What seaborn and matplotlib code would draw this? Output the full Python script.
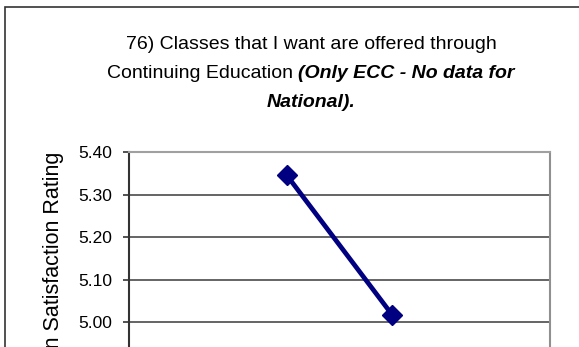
import matplotlib
matplotlib.use("Agg")
import matplotlib.pyplot as plt
from matplotlib.patches import Rectangle
import pandas as pd
import seaborn as sns

# Chart text
title_line1 = "76) Classes that I want are offered through"
title_line2_plain = "Continuing Education "
title_line2_emph = "(Only ECC - No data for"
title_line3_emph = "National)."
y_label = "Mean Satisfaction Rating"

# Data: ECC survey results only
terms = ["ECC 2007", "ECC 2009"]
ratings = [5.345, 5.017]
y_ticks = [5.00, 5.10, 5.20, 5.30, 5.40]
y_min = 4.90

sns.set_style("white")
plt.rcParams["font.family"] = ["Liberation Sans", "DejaVu Sans"]
plt.rcParams["text.color"] = "black"
plt.rcParams["axes.labelcolor"] = "black"
plt.rcParams["ytick.color"] = "black"

W, H = 579, 347
fig = plt.figure(figsize=(W / 100, H / 100), dpi=100)

# outer chart frame (continues past the right and bottom edges)
fig.patches.append(Rectangle((5 / W, -0.5), 1.5, 1 - 7 / H + 0.5,
                             transform=fig.transFigure, fill=False,
                             edgecolor="#333333", linewidth=1.2, clip_on=False))

# plot area: top at 152 px, 425 px per rating unit
px_per_unit = 425
top_px = 152
height_px = (y_ticks[-1] - y_min) * px_per_unit
left_px, right_px = 129, 550
ax = fig.add_axes([left_px / W, 1 - (top_px + height_px) / H,
                   (right_px - left_px) / W, height_px / H])

df = pd.DataFrame({"pos": range(len(terms)), "rating": ratings})
sns.lineplot(data=df, x="pos", y="rating", ax=ax, color="#000080",
             linewidth=3.4, marker="D", markersize=10.5,
             markeredgecolor="#000080", markeredgewidth=1)

ax.set_xlim(-1.5, len(terms) + 0.5)
ax.set_xticks(range(len(terms)))
ax.set_xticklabels([])
ax.set_ylim(y_min, y_ticks[-1])
ax.set_yticks(y_ticks)
ax.set_yticklabels([f"{v:.2f}" for v in y_ticks])
ax.set_xlabel("")

for v in y_ticks[:-1]:
    ax.axhline(v, color="#4a4a4a", linewidth=1.2, zorder=0)

ax.tick_params(axis="y", direction="out", length=4.3, width=1.2,
               color="#333333", pad=8, labelsize=12.5, left=True)
ax.tick_params(axis="x", length=0)
ax.spines["left"].set_color("#333333")
ax.spines["left"].set_linewidth(1.5)
ax.spines["top"].set_color("#a0a0a0")
ax.spines["top"].set_linewidth(1.5)
ax.spines["right"].set_color("#909090")
ax.spines["right"].set_linewidth(1.5)
ax.spines["bottom"].set_color("#333333")

ax.set_ylabel(y_label, fontsize=15.5)
ax.yaxis.label.set_ha("right")
ax.yaxis.set_label_coords((64 - left_px) / (right_px - left_px), 1.0)

# title, centred, with the note in bold italic
cx = 311 / W
fs = 14
fig.text(cx, 1 - 49 / H, title_line1, ha="center", va="baseline", fontsize=fs)
t_plain = fig.text(0, 1 - 78 / H, title_line2_plain, ha="left", va="baseline", fontsize=fs)
t_emph = fig.text(0, 1 - 78 / H, title_line2_emph, ha="left", va="baseline",
                  fontsize=fs, fontweight="bold", fontstyle="italic")
fig.text(cx, 1 - 107 / H, title_line3_emph, ha="center", va="baseline",
         fontsize=fs, fontweight="bold", fontstyle="italic")

r = fig.canvas.get_renderer()
w1 = t_plain.get_window_extent(r).width / W
w2 = t_emph.get_window_extent(r).width / W
x0 = cx - (w1 + w2) / 2
t_plain.set_x(x0)
t_emph.set_x(x0 + w1)

fig.savefig("out.png", dpi=100)
